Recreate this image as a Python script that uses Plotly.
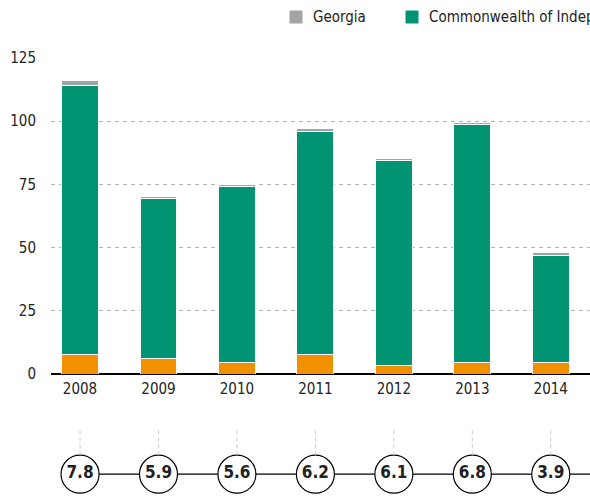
import plotly.graph_objects as go

# values
years = ['2008', '2009', '2010', '2011', '2012', '2013', '2014']
orange_vals = [7.9, 6.3, 4.4, 7.9, 3.3, 4.7, 4.7]
cis_vals = [106.3, 63.0, 69.6, 88.2, 81.0, 93.8, 42.0]
georgia_vals = [1.9, 0.9, 0.9, 1.0, 0.8, 1.1, 1.3]
circle_vals = [7.8, 5.9, 5.6, 6.2, 6.1, 6.8, 3.9]

GREEN = '#009473'
GREY = '#a3a3a3'
ORANGE = '#f29100'
FONT = 'DejaVu Sans Condensed, Roboto, sans-serif'

W, H = 590, 497
L = 51
PW = W - L

idx = list(range(len(years)))

fig = go.Figure()
bar_line = dict(color='white', width=1)
fig.add_trace(go.Bar(x=idx, y=orange_vals, marker=dict(color=ORANGE, line=bar_line),
                     showlegend=False, name='Other'))
fig.add_trace(go.Bar(x=idx, y=cis_vals, marker=dict(color=GREEN, line=bar_line),
                     showlegend=False, name='Commonwealth of Independent States'))
fig.add_trace(go.Bar(x=idx, y=georgia_vals, marker=dict(color=GREY, line=bar_line),
                     showlegend=False, name='Georgia'))

# bottom row: connecting line + circles with values
row_y = 0.23
fig.add_trace(go.Scatter(x=[idx[0], idx[-1] + 1], y=[row_y, row_y], mode='lines',
                         line=dict(color='black', width=1.2), xaxis='x', yaxis='y2',
                         showlegend=False, hoverinfo='skip'))
fig.add_trace(go.Scatter(x=idx, y=[row_y] * len(idx), mode='markers+text',
                         marker=dict(size=38, color='white', line=dict(color='black', width=1.2)),
                         text=[f'<b>{v}</b>' for v in circle_vals], textposition='middle center',
                         textfont=dict(size=17, color='#222', family=FONT),
                         xaxis='x', yaxis='y2', showlegend=False))

shapes = []
for i in idx:
    shapes.append(dict(type='line', xref='x', yref='y2', x0=i, x1=i, y0=0.42, y1=0.7,
                       line=dict(color='#cccccc', width=1, dash='4px,3px')))

# legend drawn by hand so it can run off the right edge like the original
legend_items = [('Georgia', GREY, 290), ('Commonwealth of Independent States', GREEN, 406)]
annotations = []
for label, col, px in legend_items:
    shapes.append(dict(type='rect', xref='paper', yref='paper',
                       x0=(px - L) / PW, x1=(px + 12 - L) / PW,
                       y0=(H - 23) / H, y1=(H - 11) / H,
                       fillcolor=col, line=dict(color=col, width=1)))
    annotations.append(dict(text=label, xref='paper', yref='paper',
                            x=(px + 21 - L) / PW, y=(H - 17) / H,
                            xanchor='left', yanchor='middle', showarrow=False,
                            font=dict(size=15, color='#222', family=FONT)))

fig.update_layout(
    width=W, height=H,
    margin=dict(l=L, r=0, t=0, b=0, autoexpand=False),
    barmode='stack', bargap=0.53,
    plot_bgcolor='white', paper_bgcolor='white',
    font=dict(family=FONT, size=15, color='#222'),
    xaxis=dict(range=[-0.37, 6.5], tickvals=idx, ticktext=years, showgrid=False,
               zeroline=False, showline=False, ticks='', anchor='y', automargin=False,
               ticklabelstandoff=4),
    yaxis=dict(domain=[(H - 374) / H, (H - 58) / H], range=[0, 125],
               tickvals=[0, 25, 50, 75, 100, 125],
               showgrid=True, gridcolor='#b5b5b5', griddash='4px,4px', gridwidth=1,
               zeroline=True, zerolinecolor='black', zerolinewidth=1.5,
               ticks='', ticklabelstandoff=14, automargin=False),
    yaxis2=dict(domain=[0, 0.2], range=[0, 1], visible=False),
    shapes=shapes, annotations=annotations,
)

# drop the default page margin so the figure fills the window exactly
fig.write_html('out.html', config={'displayModeBar': False},
               post_script="document.body.style.margin='0';")
